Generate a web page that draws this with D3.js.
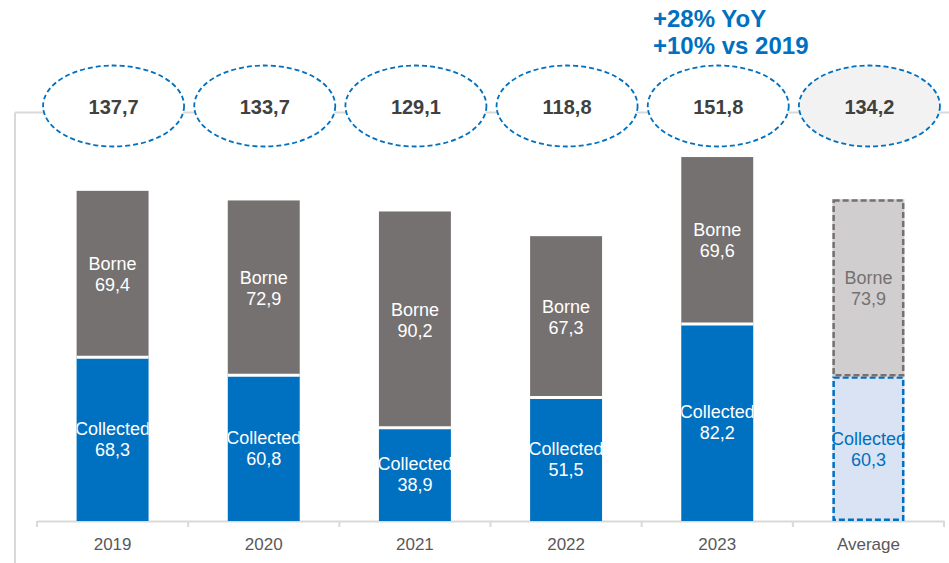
<!DOCTYPE html>
<html><head><meta charset="utf-8">
<script src="https://cdn.jsdelivr.net/npm/d3@7"></script>
<style>body{margin:0;background:#fff}svg{display:block;font-family:"Liberation Sans",Arial,sans-serif}</style>
</head><body><svg id="c" width="949" height="563"></svg>
<script>
const categories = ["2019","2020","2021","2022","2023","Average"];
const collected = [68.3, 60.8, 38.9, 51.5, 82.2, 60.3];
const borne = [69.4, 72.9, 90.2, 67.3, 69.6, 73.9];
const totals = ["137,7","133,7","129,1","118,8","151,8","134,2"];
const annotations = ["+28% YoY", "+10% vs 2019"];
const fmt = v => v.toFixed(1).replace(".", ",");

const svg = d3.select("#c");
const baseY = 521;
const x = d3.scaleBand().domain(categories).range([37, 944]).padding(0);
const y = d3.scaleLinear().domain([0, 217.3]).range([baseY, 0]);
const bw = x.bandwidth(), barW = bw * 0.476;

const BLUE = "#0070C0", GREY = "#767171";

svg.append("line").attr("x1",15).attr("x2",15).attr("y1",112.5).attr("y2",563).attr("stroke","#d9d9d9").attr("stroke-width",2);
svg.append("line").attr("x1",15).attr("x2",949).attr("y1",112.5).attr("y2",112.5).attr("stroke","#d9d9d9").attr("stroke-width",2);

const ax = svg.append("g").attr("transform",`translate(0,${baseY})`)
  .call(d3.axisBottom(x).tickSize(0).tickPadding(17));
ax.select(".domain").attr("stroke","#d9d9d9").attr("stroke-width",2);
ax.selectAll("text").attr("font-size",17).attr("fill","#595959").attr("font-family","Liberation Sans, Arial, sans-serif");
const bounds = categories.map(c => x(c)).concat([x.range()[1]]);
svg.selectAll(".btick").data(bounds).join("line")
  .attr("x1",d=>d).attr("x2",d=>d).attr("y1",baseY).attr("y2",baseY+6)
  .attr("stroke","#d9d9d9").attr("stroke-width",2);

const defs = svg.append("defs");

categories.forEach((c, i) => {
  const isAvg = c === "Average";
  const x0 = x(c) + (bw - barW) / 2;
  const cx = x(c) + bw / 2;
  const segs = [
    {name:"Collected", v0:0, v1:collected[i], fill: isAvg ? "#DAE3F3" : BLUE, stroke: isAvg ? BLUE : "#fff", text: isAvg ? BLUE : "#fff"},
    {name:"Borne", v0:collected[i], v1:collected[i]+borne[i], fill: isAvg ? "#D0CECE" : GREY, stroke: isAvg ? GREY : "#fff", text: isAvg ? GREY : "#fff"}
  ];
  segs.forEach((s, j) => {
    const yt = y(s.v1), yb = y(s.v0);
    svg.append("rect").attr("x",x0).attr("width",barW)
      .attr("y",yt).attr("height",yb-yt).attr("fill",s.fill);
    if (isAvg) {
      svg.append("rect").attr("x",x0+1.2).attr("width",barW-2.4)
        .attr("y",yt+1.2).attr("height",yb-yt-2.4).attr("fill","none")
        .attr("stroke",s.stroke).attr("stroke-width",2.5).attr("stroke-dasharray","6,3");
    } else if (j === 1) {
      svg.append("line").attr("x1",x0).attr("x2",x0+barW).attr("y1",yb).attr("y2",yb)
        .attr("stroke","#fff").attr("stroke-width",3);
    }
    const id = `clip${i}_${j}`;
    defs.append("clipPath").attr("id",id).append("rect")
      .attr("x",x0).attr("width",barW).attr("y",yt).attr("height",yb-yt);
    const my = (yt + yb) / 2;
    const t = svg.append("text").attr("clip-path",`url(#${id})`)
      .attr("text-anchor","middle").attr("font-size",18).attr("fill",s.text);
    t.append("tspan").attr("x",cx).attr("y",my-4).text(s.name);
    t.append("tspan").attr("x",cx).attr("y",my+17).text(fmt(s.v1 - s.v0));
  });

  const ex = cx + 1;
  svg.append("ellipse").attr("cx",ex).attr("cy",106).attr("rx",70.5).attr("ry",40.5)
    .attr("fill", isAvg ? "#F2F2F2" : "#fff").attr("stroke",BLUE)
    .attr("stroke-width",1.8).attr("stroke-dasharray","5,3");
  svg.append("text").attr("x",ex).attr("y",113.5).attr("text-anchor","middle")
    .attr("font-size",20).attr("font-weight","bold").attr("fill","#404040").text(totals[i]);
});

annotations.forEach((a, k) => {
  svg.append("text").attr("x",653).attr("y",27 + k*27).attr("font-size",24)
    .attr("font-weight","bold").attr("fill",BLUE).text(a);
});
</script></body></html>
